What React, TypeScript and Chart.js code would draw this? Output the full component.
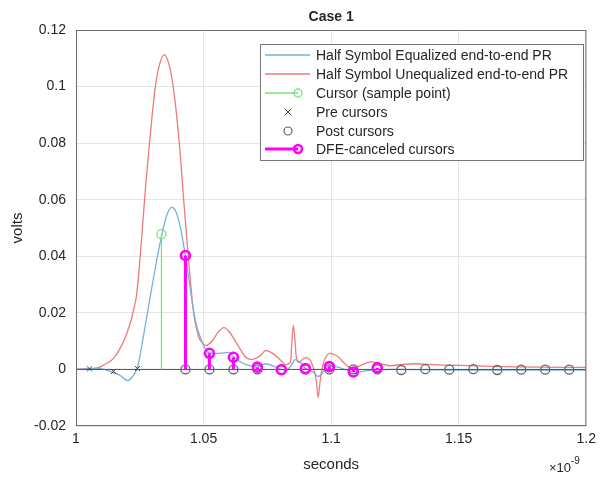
import React, { useEffect, useRef } from "react";
import { Chart, registerables } from "chart.js";
Chart.register(...registerables);

// ---------- data (x in units of 1e-9 s, y in volts) ----------
const titleText = "Case 1";
const xLabelText = "seconds";
const yLabelText = "volts";
const xTicks = [1, 1.05, 1.1, 1.15, 1.2];
const xTickLabels = ["1", "1.05", "1.1", "1.15", "1.2"];
const yTicks = [-0.02, 0, 0.02, 0.04, 0.06, 0.08, 0.1, 0.12];
const yTickLabels = ["-0.02", "0", "0.02", "0.04", "0.06", "0.08", "0.1", "0.12"];

const legendLabels = [
  "Half Symbol Equalized end-to-end PR",
  "Half Symbol Unequalized end-to-end PR",
  "Cursor (sample point)",
  "Pre cursors",
  "Post cursors",
  "DFE-canceled cursors",
];

const blueT = [1.0, 1.0054, 1.0093, 1.0144, 1.0171, 1.0202, 1.0222, 1.0241, 1.0261, 1.028, 1.0307, 1.0335, 1.0354, 1.0374, 1.0393, 1.0412, 1.0428, 1.0444, 1.0455, 1.0471, 1.0482, 1.0498, 1.051, 1.0529, 1.056, 1.0599, 1.0619, 1.0638, 1.0677, 1.0708, 1.0743, 1.0774, 1.0805, 1.0821, 1.084, 1.086, 1.0879, 1.0899, 1.093, 1.0949, 1.0973, 1.0996, 1.1027, 1.1054, 1.1093, 1.1144, 1.1261, 1.1455, 1.17, 1.2];
const blueV = [0.0, 0.0003, 0.0003, -0.001, -0.002, -0.0039, -0.0025, 0.0007, 0.01, 0.02, 0.034, 0.047, 0.054, 0.0573, 0.0555, 0.049, 0.0405, 0.031, 0.024, 0.016, 0.0127, 0.009, 0.0067, 0.0058, 0.0057, 0.006, 0.0045, 0.003, 0.0014, 0.0008, 0.002, 0.0012, 0.0, -0.0004, 0.001, 0.0035, 0.0025, 0.0005, -0.001, -0.0025, -0.0005, 0.0012, 0.0008, 0.0, -0.001, -0.0004, 0.0, -0.0002, -0.0002, -0.0002];

const redT = [1.0, 1.0043, 1.0093, 1.0105, 1.0148, 1.0187, 1.0202, 1.0218, 1.0229, 1.0237, 1.0247, 1.0257, 1.0267, 1.0276, 1.0288, 1.0311, 1.0328, 1.0346, 1.0364, 1.0381, 1.0405, 1.0422, 1.044, 1.0461, 1.0479, 1.0498, 1.051, 1.0533, 1.056, 1.058, 1.0599, 1.0638, 1.0665, 1.0689, 1.0724, 1.0743, 1.0774, 1.0805, 1.0821, 1.084, 1.0852, 1.0864, 1.0872, 1.0899, 1.092, 1.0942, 1.0949, 1.0957, 1.0969, 1.0996, 1.1027, 1.1054, 1.1078, 1.1109, 1.1156, 1.1195, 1.1233, 1.128, 1.1327, 1.1416, 1.1506, 1.165, 1.1805, 1.2];
const redV = [0.0001, 0.0002, 0.0008, 0.0014, 0.004, 0.01, 0.0135, 0.018, 0.0225, 0.026, 0.035, 0.046, 0.058, 0.068, 0.08, 0.1, 0.108, 0.1112, 0.108, 0.1, 0.08, 0.06, 0.04, 0.02, 0.012, 0.009, 0.0085, 0.01, 0.0135, 0.0148, 0.0135, 0.008, 0.0043, 0.0035, 0.005, 0.0067, 0.0055, 0.003, 0.0017, 0.0025, 0.0156, 0.004, 0.0025, 0.0042, 0.003, -0.004, -0.0099, -0.004, 0.002, 0.0057, 0.0045, 0.002, 0.0005, 0.0012, 0.0027, 0.002, 0.0013, 0.0018, 0.002, 0.0016, 0.0014, 0.001, 0.0008, 0.0007];

const cursorT = [1.0335];
const cursorV = [0.0478];

const preT = [1.0053, 1.0147, 1.0241];
const preV = [0.0002, -0.0007, 0.0003];

const postT = [1.0429, 1.0523, 1.0617, 1.0711, 1.0805, 1.0899, 1.0993, 1.1087, 1.1181, 1.1275, 1.1369, 1.1463, 1.1557, 1.1651, 1.1745, 1.1839, 1.1933];
const postV = [0, 0, 0, 0, 0, 0, 0, 0, 0, -0.0002, 0.0001, -0.0001, 0.0001, -0.0002, -0.0001, -0.0001, -0.0001];

const dfeT = [1.0429, 1.0523, 1.0617, 1.0711, 1.0805, 1.0899, 1.0993, 1.1087, 1.1181];
const dfeV = [0.0403, 0.0057, 0.0043, 0.0008, -0.0001, 0.0003, 0.001, -0.0009, 0.0006];

// ---------- styles ----------
const BLUE = "rgb(118,176,218)";
const RED = "rgb(240,122,122)";
const GREEN = "rgb(118,228,118)";
const MAGENTA = "rgb(255,0,255)";
const GRAYC = "rgb(100,100,100)";
const TEXT = "rgb(38,38,38)";
const FONT = '"Liberation Sans", Arial, Helvetica, sans-serif';

const pts = (ts: number[], vs: number[]) => ts.map((t, i) => ({ x: t, y: vs[i] }));
const stems = (ts: number[], vs: number[]) => {
  const out: any[] = [];
  ts.forEach((t, i) => {
    out.push({ x: t, y: 0 }, { x: t, y: vs[i] }, { x: t, y: null });
  });
  return out;
};

const decorPlugin = {
  id: "decor",
  afterDraw(chart: any) {
    const ctx = chart.ctx as CanvasRenderingContext2D;
    const a = chart.chartArea;
    ctx.save();
    // box
    ctx.strokeStyle = "rgb(110,110,110)";
    ctx.lineWidth = 1;
    ctx.strokeRect(a.left + 0.5, a.top + 0.5, a.right - a.left - 1, a.bottom - a.top - 1);
    // title
    ctx.fillStyle = TEXT;
    ctx.font = `bold 14px ${FONT}`;
    ctx.textAlign = "center";
    ctx.textBaseline = "middle";
    ctx.fillText(titleText, (a.left + a.right) / 2, 17);
    // x label
    ctx.font = `15px ${FONT}`;
    ctx.fillText(xLabelText, (a.left + a.right) / 2, 465);
    // exponent
    ctx.textAlign = "left";
    ctx.font = `13px ${FONT}`;
    ctx.fillText("\u00d710", 549, 468);
    ctx.font = `10px ${FONT}`;
    ctx.fillText("-9", 571, 461);
    // y label
    ctx.save();
    ctx.translate(18, (a.top + a.bottom) / 2);
    ctx.rotate(-Math.PI / 2);
    ctx.textAlign = "center";
    ctx.font = `15px ${FONT}`;
    ctx.fillText(yLabelText, 0, 0);
    ctx.restore();

    // legend
    const bx = 260, by = 44, bw = 323, bh = 116;
    ctx.fillStyle = "#ffffff";
    ctx.fillRect(bx, by, bw, bh);
    ctx.strokeStyle = "rgb(120,120,120)";
    ctx.lineWidth = 1;
    ctx.strokeRect(bx + 0.5, by + 0.5, bw, bh);
    const rows = [55, 74, 93, 112, 131, 149];
    const tx = 316;
    ctx.font = `14px ${FONT}`;
    ctx.textAlign = "left";
    ctx.textBaseline = "middle";
    const drawCircle = (x: number, y: number, r: number, col: string, w: number) => {
      ctx.beginPath();
      ctx.arc(x, y, r, 0, Math.PI * 2);
      ctx.strokeStyle = col;
      ctx.lineWidth = w;
      ctx.stroke();
    };
    const line = (y: number, col: string, w: number, x2 = 310) => {
      ctx.beginPath();
      ctx.moveTo(265, y);
      ctx.lineTo(x2, y);
      ctx.strokeStyle = col;
      ctx.lineWidth = w;
      ctx.stroke();
    };
    line(rows[0], BLUE, 1.3);
    line(rows[1], RED, 1.3);
    line(rows[2], GREEN, 1.3, 298);
    drawCircle(298, rows[2], 4, GREEN, 1.3);
    ctx.beginPath();
    ctx.moveTo(285, rows[3] - 3);
    ctx.lineTo(291, rows[3] + 3);
    ctx.moveTo(291, rows[3] - 3);
    ctx.lineTo(285, rows[3] + 3);
    ctx.strokeStyle = "rgb(60,60,60)";
    ctx.lineWidth = 1;
    ctx.stroke();
    drawCircle(288, rows[4], 4, GRAYC, 1.2);
    line(rows[5], MAGENTA, 3, 298);
    drawCircle(298, rows[5], 4, MAGENTA, 2.6);
    ctx.fillStyle = TEXT;
    legendLabels.forEach((s, i) => ctx.fillText(s, tx, rows[i] + 1));
    ctx.restore();
  },
};

export default function App() {
  const ref = useRef<HTMLCanvasElement | null>(null);
  useEffect(() => {
    if (!ref.current) return;
    const chart = new Chart(ref.current, {
      type: "scatter",
      data: {
        datasets: [
          { label: "eq", data: pts(blueT, blueV), showLine: true, borderColor: BLUE, borderWidth: 1.3, pointRadius: 0, cubicInterpolationMode: "monotone", order: 10 } as any,
          { label: "uneq", data: pts(redT, redV), showLine: true, borderColor: RED, borderWidth: 1.3, pointRadius: 0, cubicInterpolationMode: "monotone", order: 11 } as any,
          { label: "base", data: [{ x: xTicks[0], y: 0 }, { x: xTicks[xTicks.length - 1], y: 0 }], showLine: true, borderColor: "rgb(80,80,80)", borderWidth: 1, pointRadius: 0, order: 6 } as any,
          { label: "cursorStem", data: stems(cursorT, cursorV), showLine: true, spanGaps: false, borderColor: GREEN, borderWidth: 1.3, pointRadius: 0, order: 5 } as any,
          { label: "cursor", data: pts(cursorT, cursorV), showLine: false, pointStyle: "circle", pointRadius: 4.5, borderColor: GREEN, backgroundColor: "rgba(0,0,0,0)", pointBorderWidth: 1.3, order: 4 } as any,
          { label: "pre", data: pts(preT, preV), showLine: false, pointStyle: "crossRot", pointRadius: 3.5, borderColor: "rgb(60,60,60)", pointBorderWidth: 1, order: 4 } as any,
          { label: "post", data: pts(postT, postV), showLine: false, pointStyle: "circle", pointRadius: 4.5, borderColor: GRAYC, backgroundColor: "rgba(0,0,0,0)", pointBorderWidth: 1.3, order: 3 } as any,
          { label: "dfeStem", data: stems(dfeT, dfeV), showLine: true, spanGaps: false, borderColor: MAGENTA, borderWidth: 3, pointRadius: 0, order: 2 } as any,
          { label: "dfe", data: pts(dfeT, dfeV), showLine: false, pointStyle: "circle", pointRadius: 4.5, borderColor: MAGENTA, backgroundColor: "rgba(0,0,0,0)", pointBorderWidth: 2.6, order: 1 } as any,
        ],
      },
      options: {
        responsive: false,
        animation: false,
        layout: { padding: { top: 30, right: 11, left: 0, bottom: 0 } },
        plugins: { legend: { display: false }, tooltip: { enabled: false }, title: { display: false } },
        scales: {
          x: {
            type: "linear",
            min: xTicks[0],
            max: xTicks[xTicks.length - 1],
            afterBuildTicks: (s: any) => { s.ticks = xTicks.map((v) => ({ value: v })); },
            afterFit: (s: any) => { s.height = 52; },
            ticks: {
              callback: (_v: any, i: number) => xTickLabels[i],
              color: TEXT,
              font: { family: FONT, size: 14 },
              padding: 5,
              maxRotation: 0,
            },
            grid: { color: "rgb(228,228,228)", lineWidth: 1, drawTicks: false },
            border: { display: false },
          },
          y: {
            type: "linear",
            min: yTicks[0],
            max: yTicks[yTicks.length - 1],
            afterBuildTicks: (s: any) => { s.ticks = yTicks.map((v) => ({ value: v })); },
            afterFit: (s: any) => { s.width = 76; },
            ticks: {
              callback: (_v: any, i: number) => yTickLabels[i],
              color: TEXT,
              font: { family: FONT, size: 14 },
              padding: 10,
            },
            grid: { color: "rgb(228,228,228)", lineWidth: 1, drawTicks: false },
            border: { display: false },
          },
        },
      },
      plugins: [decorPlugin],
    });
    return () => chart.destroy();
  }, []);
  return (
    <div style={{ position: "fixed", left: 0, top: 0, width: 601, height: 478, background: "#fff" }}>
      <canvas ref={ref} width={601} height={478} style={{ display: "block" }} />
    </div>
  );
}
